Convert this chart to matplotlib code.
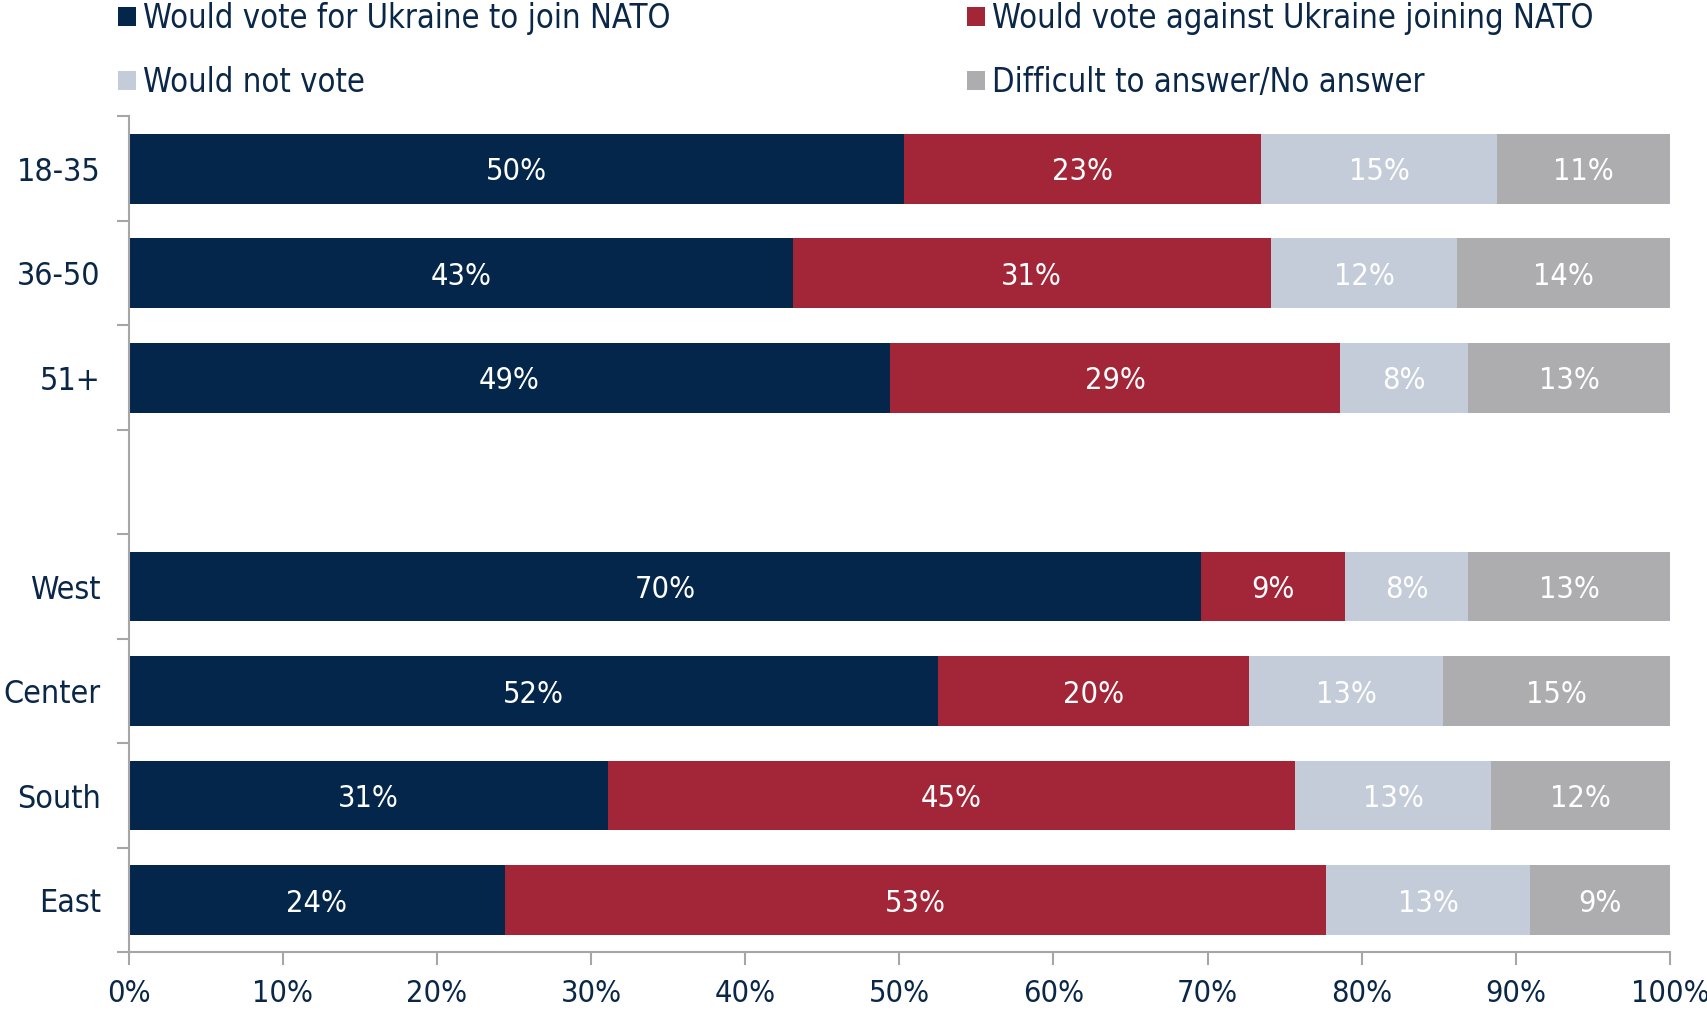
import matplotlib.pyplot as plt
import matplotlib.ticker as mticker
import numpy as np

plt.rcParams['font.family'] = ['DejaVu Sans']
plt.rcParams['font.stretch'] = 'condensed'

categories = ["18-35", "36-50", "51+", "", "West", "Center", "South", "East"]
# bar widths (shares, %)
vote_for = [50.3, 43.1, 49.4, 0, 69.6, 52.5, 31.1, 24.4]
vote_against = [23.2, 31.0, 29.2, 0, 9.3, 20.2, 44.6, 53.3]
not_vote = [15.3, 12.1, 8.3, 0, 8.0, 12.6, 12.7, 13.2]
no_answer = [11.2, 13.8, 13.1, 0, 13.1, 14.7, 11.6, 9.1]
# labels printed on the bars
lab_for = ["50%", "43%", "49%", "", "70%", "52%", "31%", "24%"]
lab_against = ["23%", "31%", "29%", "", "9%", "20%", "45%", "53%"]
lab_not = ["15%", "12%", "8%", "", "8%", "13%", "13%", "13%"]
lab_na = ["11%", "14%", "13%", "", "13%", "15%", "12%", "9%"]

series_names = ["Would vote for Ukraine to join NATO",
                "Would vote against Ukraine joining NATO",
                "Would not vote",
                "Difficult to answer/No answer"]
colors = ["#03264A", "#A32638", "#C3CCD8", "#ADADAF"]
text_color = "#0A2748"
spine_color = "#A6A6A6"

fig = plt.figure(figsize=(17.07, 10.10), dpi=100)
ax = fig.add_axes([0.0753, 0.0571, 0.903, 0.8276])

y = np.arange(len(categories))
series = [vote_for, vote_against, not_vote, no_answer]
labels = [lab_for, lab_against, lab_not, lab_na]
left = np.zeros(len(categories))
handles = []
for vals, labs, col, name in zip(series, labels, colors, series_names):
    vals = np.array(vals, dtype=float)
    bars = ax.barh(y, vals, left=left, height=0.667, color=col, label=name)
    handles.append(bars)
    for i, (v, l) in enumerate(zip(vals, labs)):
        if v > 0:
            ax.text(left[i] + v / 2, y[i] + 0.03, l, ha="center", va="center",
                    color="white", fontsize=22)
    left = left + vals

ax.set_xlim(0, 100)
ax.set_ylim(len(categories) - 0.5, -0.5)
ax.xaxis.set_major_locator(mticker.MultipleLocator(10))
ax.xaxis.set_major_formatter(mticker.FuncFormatter(lambda v, p: f"{v:.0f}%"))
ax.set_yticks(y)
ax.set_yticklabels(categories)
ax.set_yticks(np.arange(-0.5, len(categories)), minor=True)

for s in ["top", "right"]:
    ax.spines[s].set_visible(False)
for s in ["left", "bottom"]:
    ax.spines[s].set_color(spine_color)
    ax.spines[s].set_linewidth(1.5)

ax.tick_params(axis="y", which="major", length=0, pad=20, labelsize=23,
               labelcolor=text_color)
ax.tick_params(axis="y", which="minor", length=9, width=1.5, color=spine_color)
ax.tick_params(axis="x", which="major", length=9, width=1.5, color=spine_color,
               labelsize=22, labelcolor=text_color, pad=10)

order = [0, 2, 1, 3]
leg = fig.legend([handles[i] for i in order], [series_names[i] for i in order],
                 ncol=2, loc="upper left", bbox_to_anchor=(0.052, 1.027),
                 frameon=False, fontsize=23.5, handlelength=0.55, handleheight=0.55,
                 handletextpad=0.2, labelspacing=0.95, columnspacing=9.1)
for t in leg.get_texts():
    t.set_color(text_color)

fig.savefig("out.png", dpi=100)
